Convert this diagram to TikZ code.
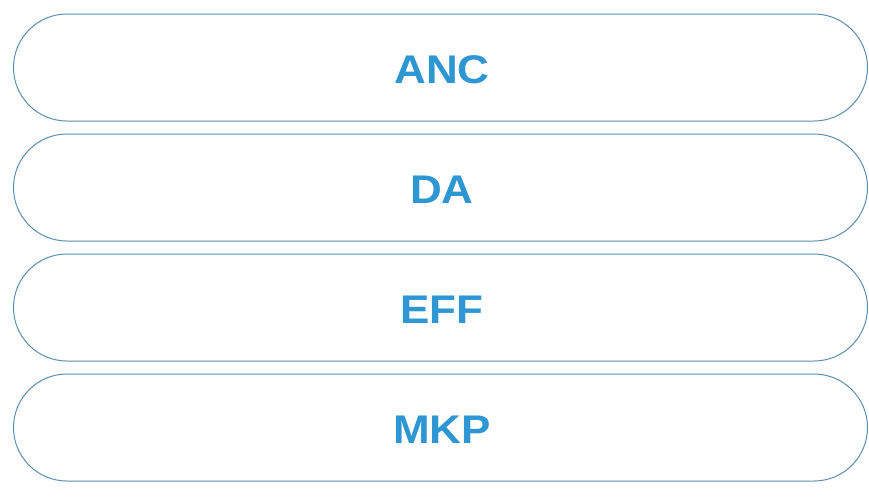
\documentclass[tikz,border=0pt]{standalone}
\usepackage{fontspec}
\newfontfamily\lblfont{Liberation Sans}[FakeStretch=1.1]
\definecolor{edge}{HTML}{5A8EB0}
\definecolor{txt}{HTML}{2E96D3}
\begin{document}
\begin{tikzpicture}[x=1pt,y=-1pt,
  pill/.style={draw=edge,line width=1pt,rounded corners=53.5pt,fill=white},
  lbl/.style={text=txt,inner sep=0pt,font=\lblfont\bfseries\fontsize{40}{40}\selectfont}]
\useasboundingbox (0,0) rectangle (869,499);
\draw[pill] (13.5,14) rectangle (867.5,121);
\draw[pill] (13.5,134) rectangle (867.5,241);
\draw[pill] (13.5,254) rectangle (867.5,361);
\draw[pill] (13.5,374) rectangle (867.5,481);
\node[lbl] (anc) at (442,69.5) {ANC};
\node[lbl] (da) at (442,189.5) {DA};
\node[lbl] (eff) at (442,309.5) {EFF};
\node[lbl] (mkp) at (442,429.5) {MKP};
\end{tikzpicture}
\end{document}
